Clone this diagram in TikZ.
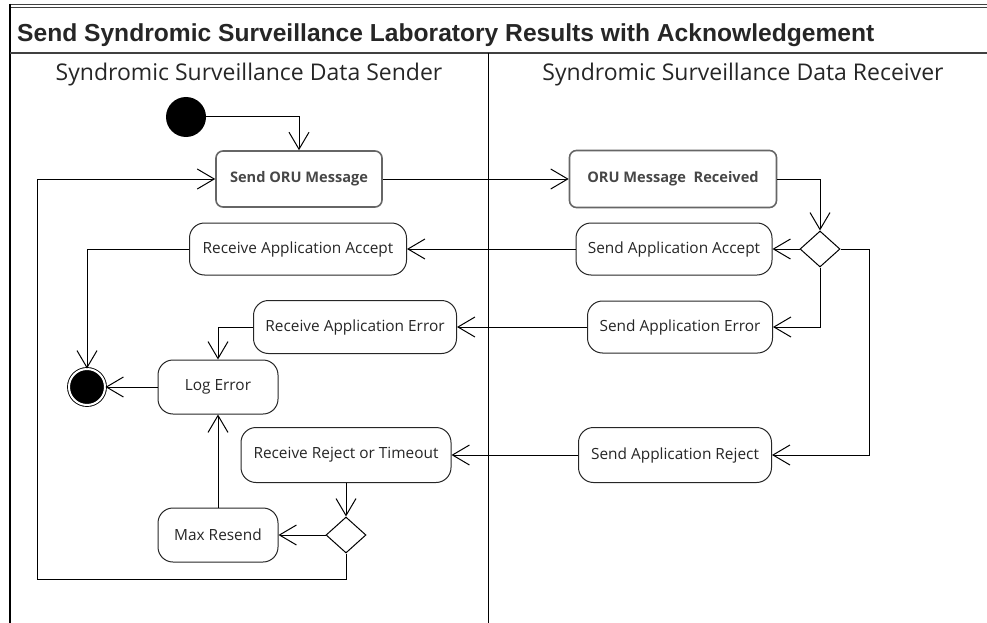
\documentclass[tikz,border=0pt]{standalone}
\usepackage{fontspec}
\setmainfont{Open Sans}
\newfontfamily\titlefont{Liberation Sans}
\usetikzlibrary{arrows.meta,shapes.geometric}

\begin{document}
\begin{tikzpicture}[x=1pt,y=-1pt]
    \tikzset{
        action/.style={draw=black!85, line width=1pt, rounded corners=15pt, inner sep=0pt,
            font=\fontsize{15.4}{18}\selectfont, text=black!85},
        message/.style={draw=black!60, line width=1.6pt, rounded corners=7pt, inner sep=0pt,
            font=\fontsize{14.6}{17}\selectfont\bfseries, text=black!72},
        decision/.style={diamond, draw, line width=1pt, minimum width=40pt, minimum height=36pt, inner sep=0pt},
        initial/.style={circle, fill=black, minimum size=40pt, inner sep=0pt},
        final/.style={circle, fill=black, draw=black, line width=0.9pt, double=white,
            double distance=2pt, minimum size=36pt, inner sep=0pt},
        flow/.style={line width=1pt, -{Straight Barb[length=17pt,width=20pt]}},
        lane/.style={line width=1pt}
    }
    \useasboundingbox (0,0) rectangle (987,623);

    % frame and swimlanes
    \draw[line width=1pt, black!75] (9,4.5) -- (987,4.5);
    \draw[line width=1pt, black!75] (9,7.5) -- (987,7.5);
    \draw[line width=2.5pt] (10,4) -- (10,623);
    \draw[line width=1.5pt, black!75] (10,53) -- (987,53);
    \draw[lane] (488,53) -- (488,623);

    \node[anchor=base west, inner sep=0pt, text=black!85,
        font=\titlefont\bfseries\fontsize{24.6}{27}\selectfont] (title) at (17,42)
        {Send Syndromic Surveillance Laboratory Results with Acknowledgement};
    \node[anchor=base, font=\fontsize{23}{27}\selectfont, text=black!85] (sender) at (249,81)
        {Syndromic Surveillance Data Sender};
    \node[anchor=base, font=\fontsize{23}{27}\selectfont, text=black!85] (receiver) at (743,81)
        {Syndromic Surveillance Data Receiver};

    % sender lane
    \node[initial] (start) at (186,117) {};
    \node[message, minimum width=166pt, minimum height=56pt] (sendoru) at (299,179) {Send ORU Message};
    \node[action, minimum width=217pt, minimum height=52pt] (rcvacc) at (298,249) {Receive Application Accept};
    \node[action, minimum width=203pt, minimum height=53pt] (rcverr) at (355,327) {Receive Application Error};
    \node[action, minimum width=120pt, minimum height=54pt] (logerr) at (218,387) {Log Error};
    \node[final] (stop) at (87,387) {};
    \node[action, minimum width=210pt, minimum height=55pt] (rcvrej) at (346,455) {Receive Reject or Timeout};
    \node[decision] (dec2) at (346,535) {};
    \node[action, minimum width=120pt, minimum height=54pt] (maxres) at (218,535) {Max Resend};
    \coordinate (lback) at (37,579);

    % receiver lane
    \node[message, minimum width=207pt, minimum height=57pt] (orurcv) at (673,179) {ORU Message\ \ Received};
    \node[decision] (dec1) at (820,249) {};
    \coordinate (rturn) at (869,249);
    \node[action, minimum width=196pt, minimum height=52pt] (sendacc) at (674,249) {Send Application Accept};
    \node[action, minimum width=185pt, minimum height=52pt] (senderr) at (680,327) {Send Application Error};
    \node[action, minimum width=193pt, minimum height=55pt] (sendrej) at (675,455) {Send Application Reject};

    \draw[flow] (start) -| (sendoru);
    \draw[flow] (sendoru) -- (orurcv);
    \draw[flow] (orurcv) -| (dec1);
    \draw[flow] (dec1) -- (sendacc);
    \draw[flow] (dec1) |- (senderr);
    \draw[flow] (dec1.east) -- (rturn) |- (sendrej);
    \draw[flow] (sendacc) -- (rcvacc);
    \draw[flow] (senderr) -- (rcverr);
    \draw[flow] (sendrej) -- (rcvrej);
    \draw[flow] (rcvacc) -| (stop);
    \draw[flow] (rcverr) -| (logerr);
    \draw[flow] (logerr) -- (stop);
    \draw[flow] (rcvrej) -- (dec2);
    \draw[flow] (dec2) -- (maxres);
    \draw[flow] (maxres) -- (logerr);
    \draw[flow] (dec2) |- (lback) |- (sendoru);
\end{tikzpicture}
\end{document}
